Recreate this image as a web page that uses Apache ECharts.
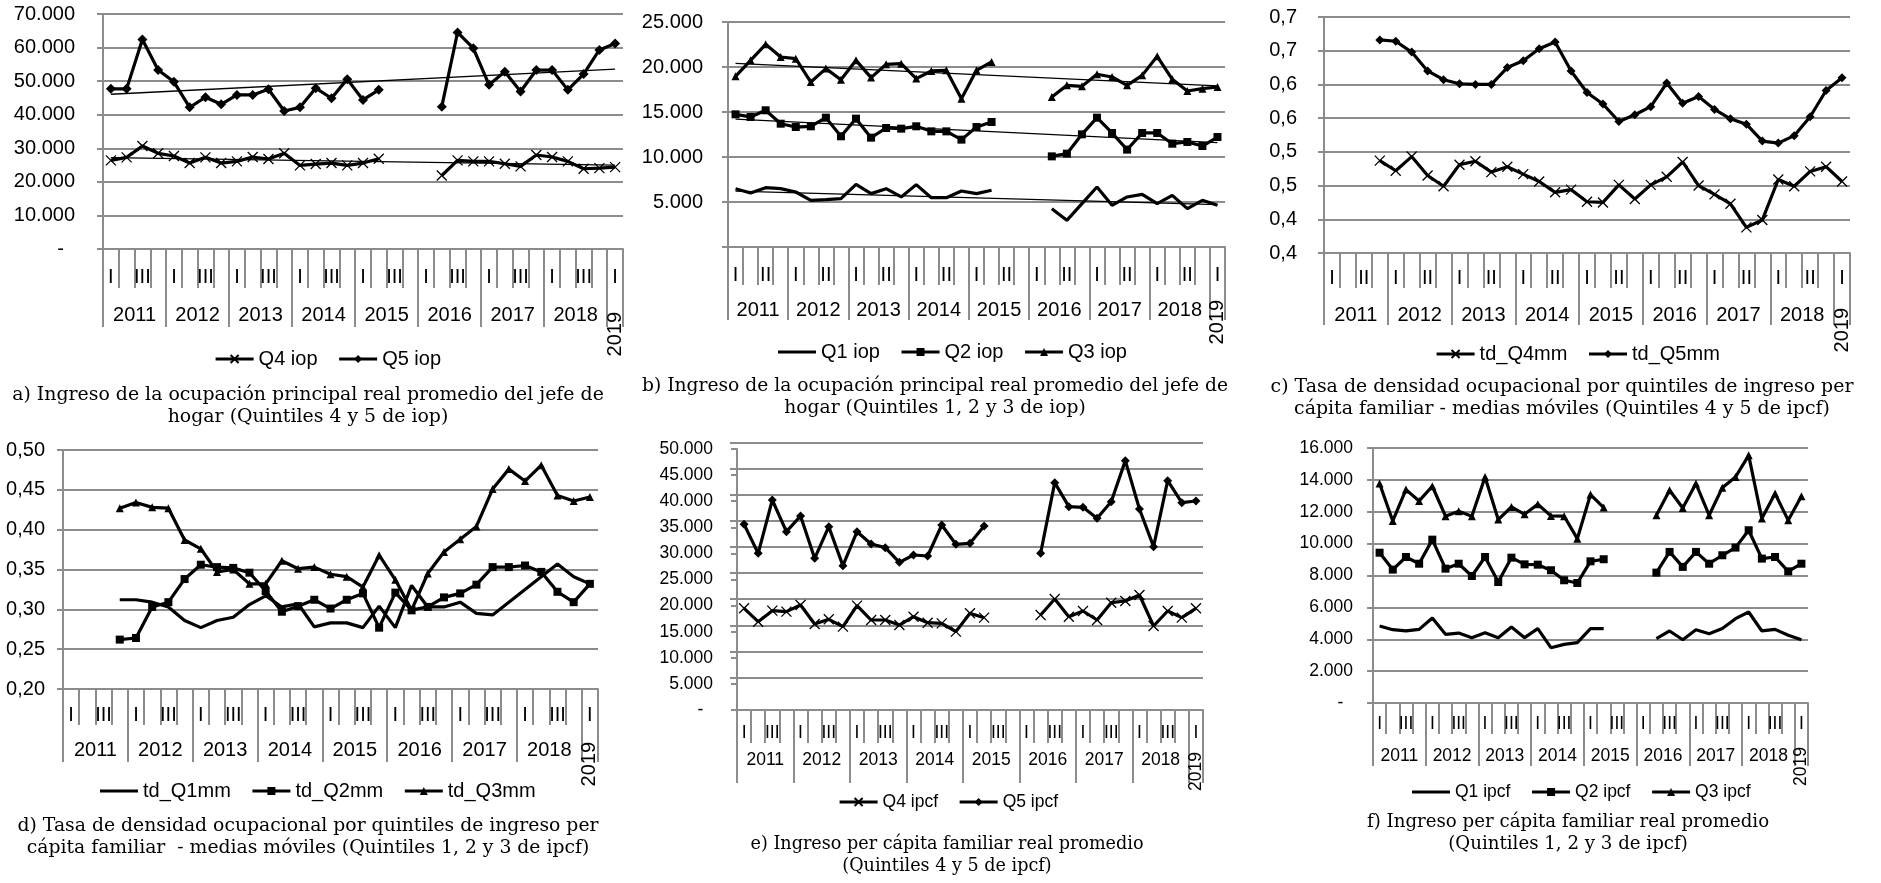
<!DOCTYPE html>
<html>
<head>
<meta charset="utf-8">
<title>Ingreso y densidad ocupacional por quintiles</title>
<script src="https://cdn.jsdelivr.net/npm/echarts@6/dist/echarts.min.js"></script>
<style>
html, body { margin: 0; padding: 0; background: #fff; }
#main { width: 1881px; height: 883px; }
</style>
</head>
<body>
<div id="main"></div>
<script>
var years = ['2011', '2012', '2013', '2014', '2015', '2016', '2017', '2018', '2019'];
var quarterNames = ['I', 'II', 'III', 'IV'];
var categories = [];
for (var y = 0; y < years.length; y++) {
	for (var q = 0; q < 4; q++) {
		if (y == years.length - 1 && q > 0) break;
		categories.push(years[y] + '-' + quarterNames[q]);
	}
}
var qLabels3 = ['I', '', 'III', ''];
var qLabels2 = ['I', '', 'II', ''];
var cTickLabels = ['0,4', '0,4', '0,5', '0,5', '0,6', '0,6', '0,7', '0,7'];

// a) iop quintiles 4 y 5
var aQ4 = [26400,27300,30700,28500,27700,25600,27300,25600,26100,27400,26800,28500,24900,25300,25600,24900,25600,26900,null,null,null,21900,26400,26100,26100,25400,24600,28000,27400,26100,23900,24100,24400];
var aQ5 = [47700,47700,62400,53300,49800,42200,45200,43100,45900,45900,47600,41100,42200,47900,44900,50600,44400,47400,null,null,null,42400,64500,59800,48900,52800,46900,53300,53300,47400,52100,59300,61200];
var aTrendQ4 = [27200, 25000];
var aTrendQ5 = [46100, 53600];

// b) iop quintiles 1, 2 y 3
var bQ1 = [6480,6000,6590,6480,6110,5190,5260,5370,6960,5930,6480,5560,6930,5480,5480,6220,5930,6300,null,null,null,4260,2960,4820,6670,4630,5560,5850,4820,5740,4260,5190,4630];
var bQ2 = [14740,14450,15190,13700,13330,13410,14370,12300,14260,12150,13220,13150,13410,12850,12850,11930,13330,13890,null,null,null,10070,10370,12520,14370,12670,10820,12670,12670,11480,11670,11220,12220];
var bQ3 = [18960,20740,22520,21110,20930,18330,19820,18590,20740,18820,20300,20370,18710,19560,19630,16480,19630,20560,null,null,null,16670,17960,17850,19190,18890,17960,19070,21190,18630,17330,17590,17780];
var bTrendQ1 = [6200, 4700];
var bTrendQ2 = [14200, 11600];
var bTrendQ3 = [20400, 17900];

// c) densidad ocupacional Q4 y Q5 (medias moviles)
var cQ4 = [null,null,null,0.537,0.522,0.543,0.515,0.499,0.531,0.536,0.520,0.528,0.517,0.506,0.490,0.494,0.476,0.475,0.501,0.480,0.501,0.513,0.535,0.500,0.487,0.473,0.438,0.449,0.509,0.499,0.521,0.528,0.506];
var cQ5 = [null,null,null,0.716,0.714,0.698,0.670,0.657,0.651,0.650,0.650,0.675,0.685,0.703,0.713,0.670,0.638,0.621,0.595,0.605,0.617,0.652,0.622,0.632,0.613,0.599,0.591,0.566,0.563,0.574,0.602,0.641,0.660];

// d) densidad ocupacional Q1, Q2 y Q3 (medias moviles)
var dQ1 = [null,null,null,0.312,0.312,0.309,0.303,0.286,0.277,0.286,0.290,0.306,0.317,0.303,0.307,0.278,0.283,0.283,0.277,0.304,0.277,0.330,0.303,0.303,0.309,0.295,0.293,0.309,0.325,0.341,0.357,0.341,0.332];
var dQ2 = [null,null,null,0.262,0.264,0.303,0.309,0.338,0.356,0.353,0.352,0.346,0.323,0.297,0.304,0.312,0.301,0.312,0.320,0.277,0.321,0.299,0.303,0.315,0.320,0.331,0.353,0.353,0.355,0.347,0.322,0.309,0.332];
var dQ3 = [null,null,null,0.427,0.434,0.428,0.427,0.387,0.376,0.347,0.350,0.332,0.332,0.361,0.351,0.353,0.344,0.341,0.328,0.368,0.337,0.299,0.345,0.372,0.388,0.404,0.451,0.476,0.461,0.481,0.443,0.436,0.441];

// e) ipcf quintiles 4 y 5
var eQ4 = [19480,16920,19030,18840,20120,16480,17370,15970,19990,17240,17240,16280,17880,16730,16600,15010,18520,17690,null,null,null,18200,21270,17880,18970,17240,20560,20880,22030,16090,18970,17690,19480];
var eQ5 = [35570,30010,40230,34160,37170,29060,35120,27650,34160,31800,31100,28290,29690,29500,35440,31740,31930,35250,null,null,null,30010,43550,38950,38830,36720,39910,47770,38510,31290,43940,39720,40040];

// f) ipcf quintiles 1, 2 y 3
var fQ1 = [4830,4600,4520,4620,5330,4310,4390,4100,4410,4100,4770,4100,4670,3470,3680,3790,4670,4670,null,null,null,4040,4520,3970,4600,4350,4670,5290,5710,4520,4620,4250,3970];
var fQ2 = [9430,8370,9160,8740,10250,8430,8740,7970,9160,7590,9120,8700,8680,8330,7700,7530,8890,9020,null,null,null,8180,9480,8540,9480,8740,9270,9750,10840,9060,9160,8260,8740];
var fQ3 = [13770,11420,13390,12680,13600,11720,12030,11720,14180,11510,12300,11840,12470,11740,11720,10310,13080,12260,null,null,null,11780,13350,12240,13770,11780,13510,14180,15540,11570,13140,11460,12970];

var gridColor = '#8c8c8c';
var sans = 'Liberation Sans';
var serif = 'DejaVu Serif';
var xSym = 'path://M0,0L10,10M10,0L0,10';
var plainLine = 'path://M0,0H38V3.2H0Z';

function fmtMiles(v) {
	if (v === 0) return '-  ';
	return (v / 1000).toFixed(3);
}
function fmtMilesBlank(v) {
	if (v === 0) return '';
	return (v / 1000).toFixed(3);
}
function fmtC(v) {
	return cTickLabels[Math.round((v - 0.4) / 0.05)];
}
function fmtD(v) {
	return v.toFixed(2).replace('.', ',');
}

var option = {
	backgroundColor: '#fff',
	animation: false,
	grid: [], xAxis: [], yAxis: [], legend: [], series: [], graphic: []
};

function addPanel(p) {
	var g = option.grid.length;
	option.grid.push({left: p.left, top: p.top, width: p.width, height: p.height});
	var catW = p.width / categories.length;
	var x0 = option.xAxis.length;

	// trimestres
	option.xAxis.push({
		type: 'category', gridIndex: g, position: 'bottom', data: categories,
		axisLine: {show: true, lineStyle: {color: gridColor, width: 2}},
		axisTick: {show: true, interval: 0, length: p.qTick, lineStyle: {color: gridColor, width: 2}},
		axisLabel: {interval: 0, margin: p.qMargin, fontSize: p.fs, fontFamily: sans, color: '#000',
			formatter: function(v, i) { return p.qLabels[i % 4]; }}
	});
	// años
	option.xAxis.push({
		type: 'category', gridIndex: g, position: 'bottom', data: categories,
		axisLine: {show: false},
		axisTick: {show: true, length: p.yTick, interval: function(i) { return i % 4 === 0; },
			lineStyle: {color: gridColor, width: 2}},
		axisLabel: {interval: function(i) { return i % 4 === 1 && i < categories.length - 1; },
			margin: p.yMargin, fontSize: p.fs, fontFamily: sans, color: '#000', padding: [0, 0, 0, catW],
			formatter: function(v) { return v.split('-')[0]; }}
	});
	// 2019 vertical
	option.xAxis.push({
		type: 'category', gridIndex: g, position: 'bottom', data: categories,
		axisLine: {show: false}, axisTick: {show: false},
		axisLabel: {interval: function(i) { return i === categories.length - 1; }, rotate: 90,
			margin: p.rMargin, fontSize: p.fs, fontFamily: sans, color: '#000',
			formatter: function(v) { return v.split('-')[0]; }}
	});

	option.yAxis.push({
		type: 'value', gridIndex: g, min: p.yMin, max: p.yMax, interval: p.yInt,
		axisLine: {show: true, lineStyle: {color: gridColor, width: 2}},
		axisTick: {show: true, length: 6, lineStyle: {color: gridColor, width: 2}},
		splitLine: {show: p.split !== false, lineStyle: {color: gridColor, width: 2}},
		axisLabel: {margin: p.yLabelMargin, fontSize: p.fs, fontFamily: sans, color: '#000', formatter: p.yFmt}
	});

	var names = [];
	for (var k = 0; k < p.series.length; k++) {
		var s = p.series[k];
		names.push(s.symbol ? s.name : {name: s.name, icon: plainLine});
		var ser = {
			type: 'line', name: s.name, xAxisIndex: x0, yAxisIndex: g, data: s.data,
			connectNulls: false, silent: true, z: 3,
			symbol: s.symbol || 'none', showSymbol: !!s.symbol, symbolSize: s.size || 9,
			lineStyle: {color: '#000', width: 3.2},
			itemStyle: {color: '#000', borderColor: '#000', borderWidth: s.symbol === xSym ? 1.3 : 0},
			emphasis: {disabled: true}
		};
		if (s.trend) {
			ser.markLine = {
				silent: true, symbol: ['none', 'none'], label: {show: false},
				lineStyle: {color: '#000', width: 1.3, type: 'solid'},
				data: [[{coord: [categories[0], s.trend[0]]}, {coord: [categories[categories.length - 1], s.trend[1]]}]]
			};
		}
		option.series.push(ser);
	}

	option.legend.push({
		left: p.legendLeft, top: p.legendTop, itemWidth: 38, itemHeight: 10, itemGap: 20,
		selectedMode: false, lineStyle: {width: 3.2, color: '#000'},
		textStyle: {fontSize: p.fs, fontFamily: sans, color: '#000'}, data: names
	});

	option.graphic.push({
		type: 'text', x: p.capX, y: p.capTop, silent: true,
		style: {text: p.caption, font: p.capFs + 'px "' + serif + '"', fill: '#000',
			align: 'center', verticalAlign: 'top', lineHeight: 22}
	});
}

addPanel({
	left: 103, top: 14, width: 520, height: 235, fs: 20, qLabels: qLabels3,
	qMargin: 18, yMargin: 56, rMargin: 63, qTick: 39, yTick: 78,
	yMin: 0, yMax: 70000, yInt: 10000, yFmt: fmtMiles, yLabelMargin: 28,
	legendLeft: 209, legendTop: 344, capX: 308, capTop: 384, capFs: 18.9,
	caption: 'a) Ingreso de la ocupación principal real promedio del jefe de\nhogar (Quintiles 4 y 5 de iop)',
	series: [
		{name: 'Q4 iop', data: aQ4, symbol: xSym, size: 10, trend: aTrendQ4},
		{name: 'Q5 iop', data: aQ5, symbol: 'diamond', size: 10, trend: aTrendQ5}
	]
});

addPanel({
	left: 728, top: 22, width: 497, height: 225, fs: 20, qLabels: qLabels2,
	qMargin: 18, yMargin: 53, rMargin: 53, qTick: 38, yTick: 73,
	yMin: 0, yMax: 25000, yInt: 5000, yFmt: fmtMilesBlank, yLabelMargin: 25,
	legendLeft: 773, legendTop: 337, capX: 935, capTop: 375, capFs: 18.7,
	caption: 'b) Ingreso de la ocupación principal real promedio del jefe de\nhogar (Quintiles 1, 2 y 3 de iop)',
	series: [
		{name: 'Q1 iop', data: bQ1, trend: bTrendQ1},
		{name: 'Q2 iop', data: bQ2, symbol: 'rect', size: 8, trend: bTrendQ2},
		{name: 'Q3 iop', data: bQ3, symbol: 'triangle', size: 8, trend: bTrendQ3}
	]
});

addPanel({
	left: 1324, top: 17, width: 526, height: 236, fs: 20, qLabels: qLabels2,
	qMargin: 15, yMargin: 52, rMargin: 55, qTick: 35, yTick: 72,
	yMin: 0.4, yMax: 0.75, yInt: 0.05, yFmt: fmtC, yLabelMargin: 27,
	legendLeft: 1430, legendTop: 339, capX: 1562, capTop: 376, capFs: 18.9,
	caption: 'c) Tasa de densidad ocupacional por quintiles de ingreso per\ncápita familiar - medias móviles (Quintiles 4 y 5 de ipcf)',
	series: [
		{name: 'td_Q4mm', data: cQ4, symbol: xSym, size: 10},
		{name: 'td_Q5mm', data: cQ5, symbol: 'diamond', size: 9}
	]
});

addPanel({
	left: 63, top: 450, width: 535, height: 239, fs: 20, qLabels: qLabels3,
	qMargin: 16, yMargin: 51, rMargin: 53, qTick: 36, yTick: 73,
	yMin: 0.2, yMax: 0.5, yInt: 0.05, yFmt: fmtD, yLabelMargin: 18,
	legendLeft: 95, legendTop: 776, capX: 308, capTop: 815, capFs: 18.8,
	caption: 'd) Tasa de densidad ocupacional por quintiles de ingreso per\ncápita familiar  - medias móviles (Quintiles 1, 2 y 3 de ipcf)',
	series: [
		{name: 'td_Q1mm', data: dQ1},
		{name: 'td_Q2mm', data: dQ2, symbol: 'rect', size: 8},
		{name: 'td_Q3mm', data: dQ3, symbol: 'triangle', size: 8}
	]
});

addPanel({
	left: 737, top: 449, width: 466, height: 261, fs: 17.5, qLabels: qLabels3,
	qMargin: 14, yMargin: 41, rMargin: 42, qTick: 33, yTick: 73,
	yMin: 0, yMax: 50000, yInt: 5000, yFmt: fmtMiles, yLabelMargin: 24, split: false,
	legendLeft: 833, legendTop: 788, capX: 947, capTop: 833, capFs: 17.6,
	caption: 'e) Ingreso per cápita familiar real promedio\n(Quintiles 4 y 5 de ipcf)',
	series: [
		{name: 'Q4 ipcf', data: eQ4, symbol: xSym, size: 10},
		{name: 'Q5 ipcf', data: eQ5, symbol: 'diamond', size: 9}
	]
});

addPanel({
	left: 1373, top: 448, width: 435, height: 255, fs: 17.5, qLabels: qLabels3,
	qMargin: 12, yMargin: 44, rMargin: 44, qTick: 31, yTick: 63,
	yMin: 0, yMax: 16000, yInt: 2000, yFmt: fmtMiles, yLabelMargin: 20,
	legendLeft: 1407, legendTop: 778, capX: 1568, capTop: 811, capFs: 18.2,
	caption: 'f) Ingreso per cápita familiar real promedio\n(Quintiles 1, 2 y 3 de ipcf)',
	series: [
		{name: 'Q1 ipcf', data: fQ1},
		{name: 'Q2 ipcf', data: fQ2, symbol: 'rect', size: 8},
		{name: 'Q3 ipcf', data: fQ3, symbol: 'triangle', size: 8}
	]
});

// panel e: las lineas de guia estan corridas hacia arriba en el original
var ge = option.grid.length;
option.grid.push({left: 730, top: 442.5, width: 473, height: 235});
option.xAxis.push({type: 'value', gridIndex: ge, show: false, min: 0, max: 1});
option.yAxis.push({
	type: 'value', gridIndex: ge, min: 5000, max: 50000, interval: 5000,
	axisLine: {show: false}, axisTick: {show: false}, axisLabel: {show: false},
	splitLine: {show: true, lineStyle: {color: gridColor, width: 2}}
});

echarts.init(document.getElementById('main')).setOption(option);
</script>
</body>
</html>
